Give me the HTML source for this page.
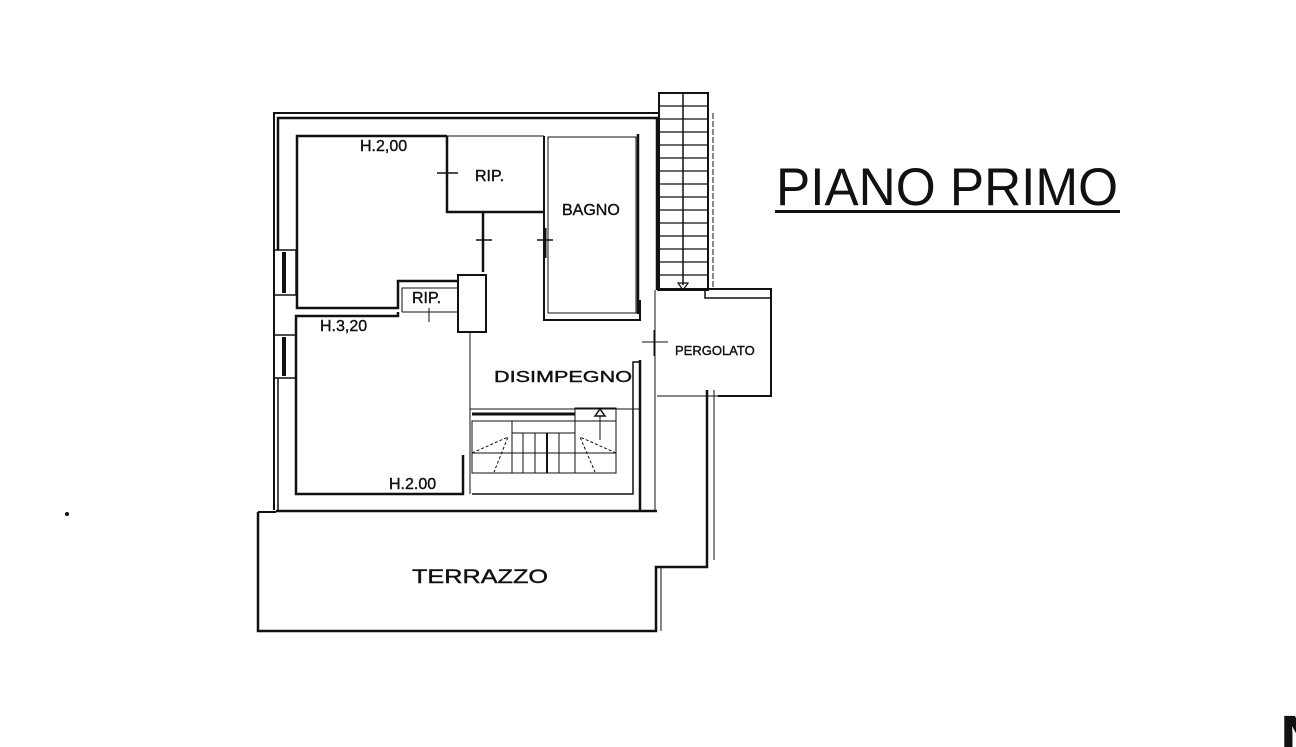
<!DOCTYPE html>
<html><head><meta charset="utf-8"><style>
html,body{margin:0;padding:0;background:#fff;}
svg{display:block;}
text{font-family:"Liberation Sans",Arial,sans-serif;fill:#111;}
.l{stroke:#111;stroke-width:0.4;}
</style></head><body>
<svg width="1296" height="747" viewBox="0 0 1296 747" xmlns="http://www.w3.org/2000/svg">
<g fill="none" stroke="#111" stroke-width="2">
<polyline points="274,510 274,113 658,113"/>
<polyline points="278,250 278,118 657,118 657,290" stroke-width="2.5"/>
<line x1="278" y1="378" x2="278" y2="510" stroke-width="1.5"/>
<rect x="274" y="250" width="22" height="45" stroke-width="1.5"/>
<line x1="284" y1="252" x2="284" y2="293" stroke-width="4"/>
<rect x="274" y="335" width="22" height="43" stroke-width="1.5"/>
<line x1="284" y1="337" x2="284" y2="376" stroke-width="4"/>
<polyline points="447,136 297,136 297,308 398,308 398,281 458,281" stroke-width="2.5"/>
<polyline points="447,136 447,212 544,212" stroke-width="2.5"/>
<line x1="447" y1="136" x2="544" y2="136" stroke-width="1"/>
<line x1="483" y1="212" x2="483" y2="272" stroke-width="2.5"/>
<line x1="437" y1="173" x2="458" y2="173" stroke-width="1.5"/>
<line x1="447" y1="163" x2="447" y2="183" stroke-width="1.5"/>
<line x1="476" y1="240" x2="492" y2="240" stroke-width="1.5"/>
<line x1="537" y1="240" x2="553" y2="240" stroke-width="1.5"/>
<line x1="545" y1="228" x2="545" y2="258" stroke-width="3"/>
<rect x="458" y="275" width="28" height="57" stroke-width="2"/>
<polyline points="402,312 402,288 458,288" stroke-width="1"/>
<line x1="402" y1="312" x2="458" y2="312" stroke-width="1"/>
<line x1="429" y1="308" x2="429" y2="322" stroke-width="1"/>
<polyline points="544,136 544,320 640,320 640,300" stroke-width="2"/>
<rect x="548" y="137" width="88" height="176" stroke-width="1"/>
<line x1="638" y1="134" x2="638" y2="314" stroke-width="2.5"/>
<polyline points="463,455 463,494 296,494 296,316 398,316 398,312" stroke-width="2.5"/>
<line x1="470" y1="332" x2="470" y2="494" stroke-width="1"/>
<polyline points="472,494 633,494 633,362 640,362" stroke-width="1.5"/>
<line x1="640" y1="360" x2="640" y2="511" stroke-width="2.5"/>
<line x1="276" y1="511" x2="657" y2="511" stroke-width="2.5"/>
<line x1="472" y1="414" x2="575" y2="414" stroke-width="3"/>
<rect x="472" y="421" width="144" height="52" stroke-width="1"/>
<rect x="575" y="408" width="41" height="65" stroke-width="1"/>
<line x1="512" y1="421" x2="512" y2="473" stroke-width="1"/>
<line x1="523" y1="433" x2="523" y2="473" stroke-width="1"/>
<line x1="535" y1="433" x2="535" y2="473" stroke-width="1"/>
<line x1="547" y1="433" x2="547" y2="473" stroke-width="2"/>
<line x1="559" y1="433" x2="559" y2="473" stroke-width="1"/>
<line x1="472" y1="453" x2="616" y2="453" stroke-width="1"/>
<line x1="512" y1="433" x2="575" y2="433" stroke-width="1"/>
<line x1="576" y1="421" x2="616" y2="421" stroke-width="1"/>
<polyline points="472,453 508,437 494,472" stroke-width="1" stroke-dasharray="3,2"/>
<polyline points="616,453 580,437 595,472" stroke-width="1" stroke-dasharray="3,2"/>
<path d="M595,416 L600,409 L605,416 Z" stroke-width="1.5"/>
<line x1="600" y1="416" x2="600" y2="440" stroke-width="1"/>
<line x1="470" y1="409" x2="640" y2="409" stroke-width="1"/>
<rect x="659" y="93" width="49" height="197" stroke-width="2"/>
<line x1="683" y1="93" x2="683" y2="285" stroke-width="1.5"/>
<g stroke-width="1.2">
<line x1="659" y1="106" x2="708" y2="106"/><line x1="659" y1="119" x2="708" y2="119"/>
<line x1="659" y1="132" x2="708" y2="132"/><line x1="659" y1="145" x2="708" y2="145"/>
<line x1="659" y1="158" x2="708" y2="158"/><line x1="659" y1="171" x2="708" y2="171"/>
<line x1="659" y1="184" x2="708" y2="184"/><line x1="659" y1="197" x2="708" y2="197"/>
<line x1="659" y1="210" x2="708" y2="210"/><line x1="659" y1="223" x2="708" y2="223"/>
<line x1="659" y1="236" x2="708" y2="236"/><line x1="659" y1="249" x2="708" y2="249"/>
<line x1="659" y1="262" x2="708" y2="262"/><line x1="659" y1="275" x2="708" y2="275"/>
</g>
<path d="M678,283 L683,290 L688,283 Z" stroke-width="1.2"/>
<line x1="713" y1="113" x2="713" y2="290" stroke-width="1" stroke-dasharray="6,2"/>
<polyline points="657,290 705,290 705,298 771,298" stroke-width="1.5"/>
<polyline points="657,289 771,289 771,396 718,396" stroke-width="2"/>
<line x1="657" y1="396" x2="718" y2="396" stroke-width="1"/>
<line x1="655" y1="290" x2="655" y2="511" stroke-width="1"/>
<line x1="642" y1="342" x2="668" y2="342" stroke-width="1"/>
<line x1="654" y1="330" x2="654" y2="356" stroke-width="1"/>
<polyline points="707,390 707,567 656,567 656,631 258,631 258,512" stroke-width="2.5"/>
<line x1="258" y1="512" x2="276" y2="512" stroke-width="2"/>
<line x1="714" y1="390" x2="714" y2="560" stroke-width="1"/>
<line x1="661" y1="567" x2="661" y2="631" stroke-width="1"/>
</g>
<text class="l" x="360" y="151" font-size="16">H.2,00</text>
<text class="l" x="475" y="181" font-size="16">RIP.</text>
<text class="l" x="562" y="215" font-size="16">BAGNO</text>
<text class="l" x="412" y="303" font-size="16">RIP.</text>
<text class="l" x="320" y="331" font-size="16">H.3,20</text>
<text class="l" x="494" y="382" font-size="16" textLength="138" lengthAdjust="spacingAndGlyphs">DISIMPEGNO</text>
<text class="l" x="675" y="355" font-size="13">PERGOLATO</text>
<text class="l" x="389" y="489" font-size="16">H.2.00</text>
<text class="l" x="412" y="583" font-size="19" textLength="136" lengthAdjust="spacingAndGlyphs">TERRAZZO</text>
<text x="776" y="205" font-size="53" textLength="342" lengthAdjust="spacingAndGlyphs">PIANO PRIMO</text>
<rect x="775" y="210" width="345" height="3" fill="#111"/>
<text x="1280" y="760" font-size="64" font-weight="bold">N</text>
<circle cx="67" cy="514" r="2" fill="#111"/>
</svg>
</body></html>
